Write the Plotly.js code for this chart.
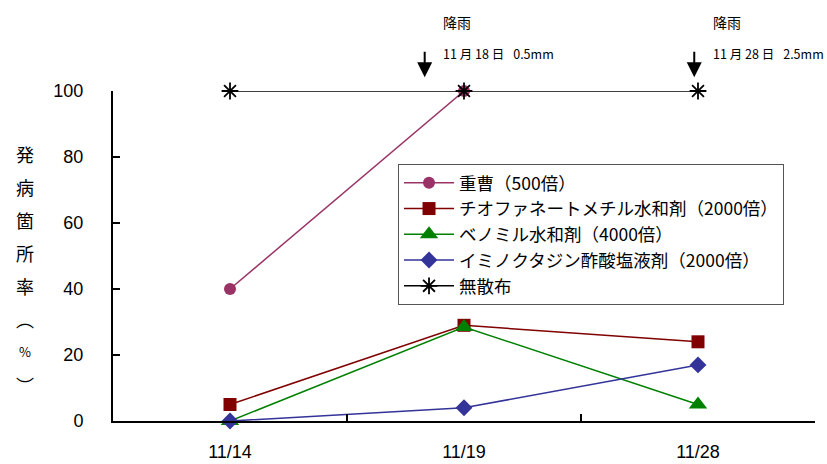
<!DOCTYPE html>
<html>
<head>
<meta charset="utf-8">
<script src="https://cdn.plot.ly/plotly-3.0.1.min.js"></script>
<style>html,body{margin:0;padding:0;background:#fff;}#chart{width:827px;height:464px;}</style>
</head>
<body>
<div id="chart"></div>
<script>
const dates = ["11/14", "11/19", "11/28"];
const seriesNames = ["重曹（500倍）", "チオファネートメチル水和剤（2000倍）", "ベノミル水和剤（4000倍）", "イミノクタジン酢酸塩液剤（2000倍）", "無散布"];
const jusou = [40, 100, null];
const thiophanate = [5, 29, 24];
const benomyl = [0, 28.5, 5];
const iminoctadine = [0, 4, 17];
const noSpray = [100, 100, 100];
const yTitleChars = ["発", "病", "箇", "所", "率", "︵", "%", "︶"];
const rainTitle = "降雨";
const rainNotes = ["11 月 18 日\u2002 0.5mm", "11 月 28 日\u2002 2.5mm"];

const cjk = '"Noto Sans CJK JP", "Liberation Sans", sans-serif';
const num = '"Liberation Sans", Arial, sans-serif';

const styles = [
  {color: "#993366", symbol: "circle", size: 12},
  {color: "#800000", symbol: "square", size: 13},
  {color: "#008000", symbol: "triangle-up", size: 16},
  {color: "#333399", symbol: "diamond", size: 13},
  {color: "#000000", symbol: "asterisk-open", size: 14}
];
const values = [jusou, thiophanate, benomyl, iminoctadine, noSpray];
const traces = values.map((v, i) => ({
  type: "scatter", mode: "lines+markers", x: dates, y: v, name: seriesNames[i],
  cliponaxis: false,
  line: {color: styles[i].color, width: 1.5},
  marker: {color: styles[i].color, symbol: styles[i].symbol, size: styles[i].size,
           line: {color: styles[i].color, width: i === 4 ? 1.8 : 0}}
}));

const annotations = [];
const yStart = 0.81, yStep = 0.1;
yTitleChars.forEach((c, i) => {
  annotations.push({xref: "paper", yref: "paper", x: -0.125, y: yStart - i * yStep,
    text: c, showarrow: false, xanchor: "center", yanchor: "middle",
    font: {family: cjk, size: c === "%" ? 13 : 18, color: "#000"}});
});
const arrowX = [0.444, 0.828];
const textX = [0.467, 0.852];
arrowX.forEach((ax, i) => {
  annotations.push({xref: "paper", yref: "paper", x: ax, y: 1.042, ax: 0, ay: -27,
    text: "", showarrow: true, arrowhead: 2, arrowsize: 1.5, arrowwidth: 2, arrowcolor: "#000"});
  annotations.push({xref: "paper", yref: "paper", x: textX[i], y: 1.21, text: rainTitle,
    showarrow: false, xanchor: "left", yanchor: "middle", font: {family: cjk, size: 14, color: "#000"}});
  annotations.push({xref: "paper", yref: "paper", x: textX[i], y: 1.115, text: rainNotes[i],
    showarrow: false, xanchor: "left", yanchor: "middle", font: {family: cjk, size: 12.5, color: "#000"}});
});

const layout = {
  width: 827, height: 464,
  margin: {l: 113, r: 12, t: 91, b: 43},
  paper_bgcolor: "#fff", plot_bgcolor: "#fff",
  showlegend: true,
  legend: {x: 0.406, y: 0.779, xanchor: "left", yanchor: "top",
    bordercolor: "#555", borderwidth: 1, bgcolor: "#fff",
    font: {family: cjk, size: 17.5, color: "#000"}, itemwidth: 50, tracegroupgap: 0},
  xaxis: {type: "category", range: [-0.5, 2.5], showline: true, linecolor: "#000", linewidth: 2,
    ticks: "inside", tickson: "boundaries", ticklen: 7, tickcolor: "#000", tickwidth: 1.5,
    showgrid: false, zeroline: false, ticklabelstandoff: 13,
    tickfont: {family: num, size: 18, color: "#000"}},
  yaxis: {range: [0, 100], dtick: 20, showline: true, linecolor: "#000", linewidth: 2,
    ticks: "inside", ticklen: 7, tickcolor: "#000", tickwidth: 1.5,
    showgrid: false, zeroline: false, ticklabelstandoff: 24,
    tickfont: {family: num, size: 18, color: "#000"}},
  annotations: annotations
};
Plotly.newPlot("chart", traces, layout, {displayModeBar: false, staticPlot: true});
</script>
</body>
</html>
